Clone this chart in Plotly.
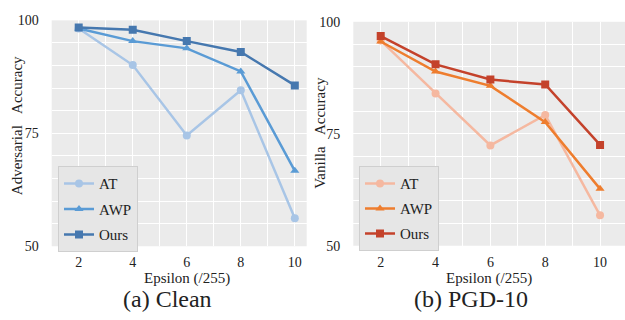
import plotly.graph_objects as go

epsilon = [2, 4, 6, 8, 10]

clean_at = [98.2, 90.1, 74.5, 84.5, 56.2]
clean_awp = [98.2, 95.4, 93.8, 88.7, 66.7]
clean_ours = [98.4, 97.9, 95.4, 93.0, 85.6]

pgd_at = [95.8, 84.0, 72.4, 79.2, 56.8]
pgd_awp = [95.6, 88.9, 85.7, 77.6, 62.7]
pgd_ours = [96.8, 90.5, 87.1, 86.0, 72.5]

series_names = ["AT", "AWP", "Ours"]
symbols = ["circle", "triangle-up", "square"]
blue_colors = ["#a8c5e6", "#5a9bd5", "#4678af"]
orange_colors = ["#f5b8a0", "#ee7d2e", "#c4422b"]

W, H = 625, 320
FONT = "Liberation Serif"
NB = "\u00a0"

fig = go.Figure()

left_data = [clean_at, clean_awp, clean_ours]
right_data = [pgd_at, pgd_awp, pgd_ours]

for i, (name, ys) in enumerate(zip(series_names, left_data)):
    fig.add_trace(go.Scatter(
        x=epsilon, y=ys, name=name, mode="lines+markers",
        line=dict(color=blue_colors[i], width=2.5),
        marker=dict(symbol=symbols[i], size=8, color=blue_colors[i]),
        xaxis="x", yaxis="y", legend="legend", legendgroup="l" + name,
    ))
for i, (name, ys) in enumerate(zip(series_names, right_data)):
    fig.add_trace(go.Scatter(
        x=epsilon, y=ys, name=name, mode="lines+markers",
        line=dict(color=orange_colors[i], width=2.5),
        marker=dict(symbol=symbols[i], size=8, color=orange_colors[i]),
        xaxis="x2", yaxis="y2", legend="legend2", legendgroup="r" + name,
    ))

def px_x(v):
    return v / W

def px_y(v):
    return 1 - v / H

axis_common = dict(
    showline=False, zeroline=False, ticks="",
    tickfont=dict(family=FONT, size=14, color="#222222"),
    gridcolor="white", gridwidth=1.2,
)

fig.update_layout(
    width=W, height=H,
    margin=dict(l=0, r=0, t=0, b=0),
    paper_bgcolor="white", plot_bgcolor="#ebebeb",
    font=dict(family=FONT, color="#222222"),
    xaxis=dict(domain=[px_x(51.7), px_x(306.7)], range=[1, 10.44],
               tickvals=epsilon, anchor="y", ticklabelstandoff=6,
               minor=dict(dtick=1, tick0=0, showgrid=True, gridcolor="white", gridwidth=1.2),
               **axis_common),
    yaxis=dict(domain=[px_y(251), px_y(14)], range=[50, 100],
               tickvals=[50, 75, 100], anchor="x", ticklabelstandoff=12,
               minor=dict(dtick=5, tick0=0, showgrid=True, gridcolor="white", gridwidth=1.2),
               **axis_common),
    xaxis2=dict(domain=[px_x(353.3), 1.0], range=[1.0, 10.91],
                tickvals=epsilon, anchor="y2", ticklabelstandoff=6,
                minor=dict(dtick=1, tick0=0, showgrid=True, gridcolor="white", gridwidth=1.2),
                **axis_common),
    yaxis2=dict(domain=[px_y(250.5), px_y(15.5)], range=[50, 100],
                tickvals=[50, 75, 100], anchor="x2", ticklabelstandoff=12,
                minor=dict(dtick=5, tick0=0, showgrid=True, gridcolor="white", gridwidth=1.2),
                **axis_common),
    legend=dict(x=px_x(58), y=px_y(167), xanchor="left", yanchor="top",
                bgcolor="#e6e6e6", bordercolor="#cfcfcf", borderwidth=1,
                font=dict(family=FONT, size=15, color="#222222"),
                tracegroupgap=3, traceorder="grouped"),
    legend2=dict(x=px_x(359), y=px_y(167), xanchor="left", yanchor="top",
                 bgcolor="#e6e6e6", bordercolor="#cfcfcf", borderwidth=1,
                 font=dict(family=FONT, size=15, color="#222222"),
                 tracegroupgap=2.5, traceorder="grouped"),
    showlegend=True,
)

annotations = [
    dict(text="Adversarial" + NB * 3 + "Accuracy", x=px_x(17), y=px_y(125), textangle=-90,
         font=dict(size=15)),
    dict(text="Vanilla" + NB * 3 + "Accuracy", x=px_x(320), y=px_y(132), textangle=-90,
         font=dict(size=15)),
    dict(text="Epsilon (/255)", x=px_x(187), y=px_y(285), font=dict(size=15)),
    dict(text="Epsilon (/255)", x=px_x(489), y=px_y(285), font=dict(size=15)),
    dict(text="(a) Clean", x=px_x(167), y=px_y(306), font=dict(size=24)),
    dict(text="(b) PGD-10", x=px_x(471), y=px_y(306), font=dict(size=24)),
]
for a in annotations:
    a.update(xref="paper", yref="paper", showarrow=False,
             xanchor="center", yanchor="middle")
    a["font"]["family"] = FONT
    a["font"]["color"] = "#222222"
fig.update_layout(annotations=annotations)

fig.write_html("out.html", config={"displayModeBar": False},
               post_script="document.body.style.margin='0';document.body.style.overflow='hidden';")
